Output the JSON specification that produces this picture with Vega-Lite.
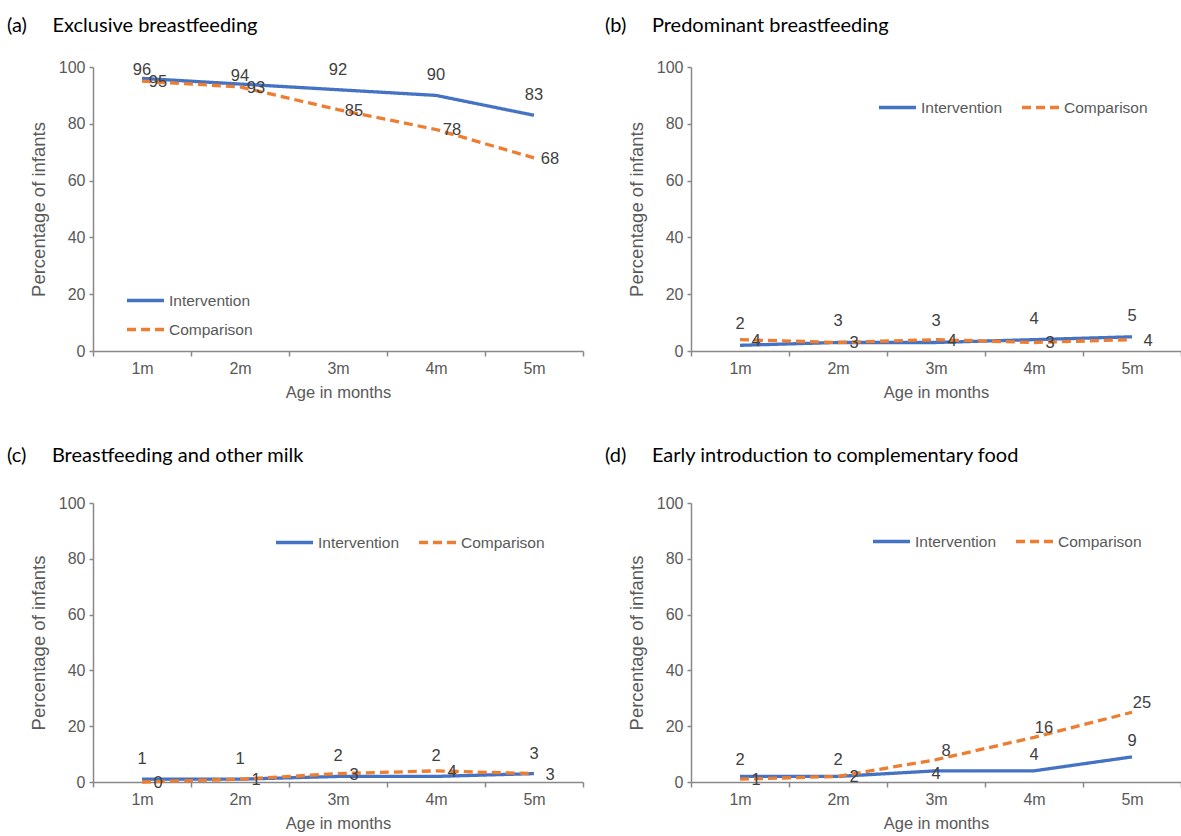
{
  "$schema": "https://vega.github.io/schema/vega-lite/v6.json",
  "background": "white",
  "padding": {"left": 7, "top": 16, "right": 0, "bottom": 0},
  "config": {
    "view": {"stroke": null},
    "font": "Liberation Sans",
    "axis": {"labelFont": "Liberation Sans", "labelFontSize": 16, "labelColor": "#595959", "titleFont": "Liberation Sans", "titleFontSize": 16.5, "titleFontWeight": "normal", "titleColor": "#595959", "domainColor": "#898989", "tickColor": "#898989", "domainWidth": 1.5, "tickWidth": 1.5, "grid": false},
    "axisY": {"titleFontSize": 18.5},
    "legend": {"labelFont": "Liberation Sans", "labelFontSize": 15.5, "labelColor": "#595959", "symbolType": "stroke", "symbolStrokeWidth": 3.5, "symbolSize": 1369, "labelOffset": 3, "columnPadding": 13, "rowPadding": -1},
    "title": {"font": "Lato", "fontSize": 20, "fontWeight": "normal", "color": "#000000", "anchor": "start"}
  },
  "data": {"values": [
    {"panel": "a", "month": "1m", "group": "Intervention", "value": 96},
    {"panel": "a", "month": "2m", "group": "Intervention", "value": 94},
    {"panel": "a", "month": "3m", "group": "Intervention", "value": 92},
    {"panel": "a", "month": "4m", "group": "Intervention", "value": 90},
    {"panel": "a", "month": "5m", "group": "Intervention", "value": 83},
    {"panel": "a", "month": "1m", "group": "Comparison", "value": 95},
    {"panel": "a", "month": "2m", "group": "Comparison", "value": 93},
    {"panel": "a", "month": "3m", "group": "Comparison", "value": 85},
    {"panel": "a", "month": "4m", "group": "Comparison", "value": 78},
    {"panel": "a", "month": "5m", "group": "Comparison", "value": 68},
    {"panel": "b", "month": "1m", "group": "Intervention", "value": 2},
    {"panel": "b", "month": "2m", "group": "Intervention", "value": 3},
    {"panel": "b", "month": "3m", "group": "Intervention", "value": 3},
    {"panel": "b", "month": "4m", "group": "Intervention", "value": 4},
    {"panel": "b", "month": "5m", "group": "Intervention", "value": 5},
    {"panel": "b", "month": "1m", "group": "Comparison", "value": 4},
    {"panel": "b", "month": "2m", "group": "Comparison", "value": 3},
    {"panel": "b", "month": "3m", "group": "Comparison", "value": 4},
    {"panel": "b", "month": "4m", "group": "Comparison", "value": 3},
    {"panel": "b", "month": "5m", "group": "Comparison", "value": 4},
    {"panel": "c", "month": "1m", "group": "Intervention", "value": 1},
    {"panel": "c", "month": "2m", "group": "Intervention", "value": 1},
    {"panel": "c", "month": "3m", "group": "Intervention", "value": 2},
    {"panel": "c", "month": "4m", "group": "Intervention", "value": 2},
    {"panel": "c", "month": "5m", "group": "Intervention", "value": 3},
    {"panel": "c", "month": "1m", "group": "Comparison", "value": 0},
    {"panel": "c", "month": "2m", "group": "Comparison", "value": 1},
    {"panel": "c", "month": "3m", "group": "Comparison", "value": 3},
    {"panel": "c", "month": "4m", "group": "Comparison", "value": 4},
    {"panel": "c", "month": "5m", "group": "Comparison", "value": 3},
    {"panel": "d", "month": "1m", "group": "Intervention", "value": 2},
    {"panel": "d", "month": "2m", "group": "Intervention", "value": 2},
    {"panel": "d", "month": "3m", "group": "Intervention", "value": 4},
    {"panel": "d", "month": "4m", "group": "Intervention", "value": 4},
    {"panel": "d", "month": "5m", "group": "Intervention", "value": 9},
    {"panel": "d", "month": "1m", "group": "Comparison", "value": 1},
    {"panel": "d", "month": "2m", "group": "Comparison", "value": 2},
    {"panel": "d", "month": "3m", "group": "Comparison", "value": 8},
    {"panel": "d", "month": "4m", "group": "Comparison", "value": 16},
    {"panel": "d", "month": "5m", "group": "Comparison", "value": 25}
  ]},
  "spacing": 45,
  "resolve": {"scale": {"color": "independent", "strokeDash": "independent"}, "legend": {"color": "independent", "strokeDash": "independent"}},
  "vconcat": [
    {
      "spacing": 21,
      "resolve": {"scale": {"color": "independent", "strokeDash": "independent"}, "legend": {"color": "independent", "strokeDash": "independent"}},
      "hconcat": [
        {
          "width": 490, "height": 284,
          "title": {"text": "(a)\u00a0\u00a0\u00a0\u00a0 Exclusive breastfeeding", "frame": "group", "dx": -86, "offset": 23},
          "transform": [{"filter": "datum.panel === 'a'"}],
          "encoding": {
            "x": {"field": "month", "type": "ordinal", "bandPosition": 0.5, "scale": {"type": "band", "paddingInner": 0, "paddingOuter": 0}, "axis": {"title": "Age in months", "tickBand": "extent", "labelAngle": 0, "tickSize": 5, "labelPadding": 4, "titlePadding": 8}},
            "y": {"field": "value", "type": "quantitative", "scale": {"domain": [0, 100], "nice": false}, "axis": {"values": [0, 20, 40, 60, 80, 100], "title": "Percentage of infants", "tickSize": 4, "labelPadding": 4, "titlePadding": 10}}
          },
          "layer": [
            {"transform": [{"filter": "datum.group === 'Intervention'"}], "mark": {"type": "line", "strokeWidth": 3.3}, "encoding": {
              "color": {"field": "group", "type": "nominal", "scale": {"domain": ["Intervention", "Comparison"], "range": ["#4472C4", "#ED7D31"]}, "legend": {"title": null, "orient": "none", "legendX": 32, "legendY": 213, "direction": "vertical"}},
              "strokeDash": {"field": "group", "type": "nominal", "scale": {"domain": ["Intervention", "Comparison"], "range": [[1, 0], [9, 5]]}, "legend": {"title": null, "orient": "none", "legendX": 32, "legendY": 213, "direction": "vertical"}}}},
            {"transform": [{"filter": "datum.group === 'Comparison'"}], "mark": {"type": "line", "strokeWidth": 3.3}, "encoding": {
              "color": {"field": "group", "type": "nominal"},
              "strokeDash": {"field": "group", "type": "nominal"}}},
            {"transform": [{"filter": "datum.group === 'Intervention' && datum.value >= 93"}], "mark": {"type": "text", "dy": -8, "fontSize": 16.5, "color": "#404040"}, "encoding": {"text": {"field": "value", "type": "quantitative"}}},
            {"transform": [{"filter": "datum.group === 'Intervention' && datum.value < 93"}], "mark": {"type": "text", "dy": -20, "fontSize": 16.5, "color": "#404040"}, "encoding": {"text": {"field": "value", "type": "quantitative"}}},
            {"transform": [{"filter": "datum.group === 'Comparison'"}], "mark": {"type": "text", "dx": 16, "dy": 1, "fontSize": 16.5, "color": "#404040"}, "encoding": {"text": {"field": "value", "type": "quantitative"}}}
          ]
        },
        {
          "width": 490, "height": 284,
          "title": {"text": "(b)\u00a0\u00a0\u00a0\u00a0 Predominant breastfeeding", "frame": "group", "dx": -86, "offset": 23},
          "transform": [{"filter": "datum.panel === 'b'"}],
          "encoding": {
            "x": {"field": "month", "type": "ordinal", "bandPosition": 0.5, "scale": {"type": "band", "paddingInner": 0, "paddingOuter": 0}, "axis": {"title": "Age in months", "tickBand": "extent", "labelAngle": 0, "tickSize": 5, "labelPadding": 4, "titlePadding": 8}},
            "y": {"field": "value", "type": "quantitative", "scale": {"domain": [0, 100], "nice": false}, "axis": {"values": [0, 20, 40, 60, 80, 100], "title": "Percentage of infants", "tickSize": 4, "labelPadding": 4, "titlePadding": 10}}
          },
          "layer": [
            {"transform": [{"filter": "datum.group === 'Intervention'"}], "mark": {"type": "line", "strokeWidth": 3.3}, "encoding": {
              "color": {"field": "group", "type": "nominal", "scale": {"domain": ["Intervention", "Comparison"], "range": ["#4472C4", "#ED7D31"]}, "legend": {"title": null, "orient": "none", "legendX": 186, "legendY": 20, "direction": "horizontal"}},
              "strokeDash": {"field": "group", "type": "nominal", "scale": {"domain": ["Intervention", "Comparison"], "range": [[1, 0], [9, 5]]}, "legend": {"title": null, "orient": "none", "legendX": 186, "legendY": 20, "direction": "horizontal"}}}},
            {"transform": [{"filter": "datum.group === 'Comparison'"}], "mark": {"type": "line", "strokeWidth": 3.3}, "encoding": {
              "color": {"field": "group", "type": "nominal"},
              "strokeDash": {"field": "group", "type": "nominal"}}},
            {"transform": [{"filter": "datum.group === 'Intervention'"}], "mark": {"type": "text", "dy": -21, "fontSize": 16.5, "color": "#404040"}, "encoding": {"text": {"field": "value", "type": "quantitative"}}},
            {"transform": [{"filter": "datum.group === 'Comparison'"}], "mark": {"type": "text", "dx": 16, "dy": 1, "fontSize": 16.5, "color": "#404040"}, "encoding": {"text": {"field": "value", "type": "quantitative"}}}
          ]
        }
      ]
    },
    {
      "spacing": 21,
      "resolve": {"scale": {"color": "independent", "strokeDash": "independent"}, "legend": {"color": "independent", "strokeDash": "independent"}},
      "hconcat": [
        {
          "width": 490, "height": 279,
          "title": {"text": "(c)\u00a0\u00a0\u00a0\u00a0 Breastfeeding and other milk", "frame": "group", "dx": -86, "offset": 29},
          "transform": [{"filter": "datum.panel === 'c'"}],
          "encoding": {
            "x": {"field": "month", "type": "ordinal", "bandPosition": 0.5, "scale": {"type": "band", "paddingInner": 0, "paddingOuter": 0}, "axis": {"title": "Age in months", "tickBand": "extent", "labelAngle": 0, "tickSize": 5, "labelPadding": 4, "titlePadding": 8}},
            "y": {"field": "value", "type": "quantitative", "scale": {"domain": [0, 100], "nice": false}, "axis": {"values": [0, 20, 40, 60, 80, 100], "title": "Percentage of infants", "tickSize": 4, "labelPadding": 4, "titlePadding": 10}}
          },
          "layer": [
            {"transform": [{"filter": "datum.group === 'Intervention'"}], "mark": {"type": "line", "strokeWidth": 3.3}, "encoding": {
              "color": {"field": "group", "type": "nominal", "scale": {"domain": ["Intervention", "Comparison"], "range": ["#4472C4", "#ED7D31"]}, "legend": {"title": null, "orient": "none", "legendX": 181, "legendY": 19, "direction": "horizontal"}},
              "strokeDash": {"field": "group", "type": "nominal", "scale": {"domain": ["Intervention", "Comparison"], "range": [[1, 0], [9, 5]]}, "legend": {"title": null, "orient": "none", "legendX": 181, "legendY": 19, "direction": "horizontal"}}}},
            {"transform": [{"filter": "datum.group === 'Comparison'"}], "mark": {"type": "line", "strokeWidth": 3.3}, "encoding": {
              "color": {"field": "group", "type": "nominal"},
              "strokeDash": {"field": "group", "type": "nominal"}}},
            {"transform": [{"filter": "datum.group === 'Intervention'"}], "mark": {"type": "text", "dy": -20, "fontSize": 16.5, "color": "#404040"}, "encoding": {"text": {"field": "value", "type": "quantitative"}}},
            {"transform": [{"filter": "datum.group === 'Comparison'"}], "mark": {"type": "text", "dx": 16, "dy": 1, "fontSize": 16.5, "color": "#404040"}, "encoding": {"text": {"field": "value", "type": "quantitative"}}}
          ]
        },
        {
          "width": 490, "height": 279,
          "title": {"text": "(d)\u00a0\u00a0\u00a0\u00a0 Early introduction to complementary food", "frame": "group", "dx": -86, "offset": 29},
          "transform": [{"filter": "datum.panel === 'd'"}],
          "encoding": {
            "x": {"field": "month", "type": "ordinal", "bandPosition": 0.5, "scale": {"type": "band", "paddingInner": 0, "paddingOuter": 0}, "axis": {"title": "Age in months", "tickBand": "extent", "labelAngle": 0, "tickSize": 5, "labelPadding": 4, "titlePadding": 8}},
            "y": {"field": "value", "type": "quantitative", "scale": {"domain": [0, 100], "nice": false}, "axis": {"values": [0, 20, 40, 60, 80, 100], "title": "Percentage of infants", "tickSize": 4, "labelPadding": 4, "titlePadding": 10}}
          },
          "layer": [
            {"transform": [{"filter": "datum.group === 'Intervention'"}], "mark": {"type": "line", "strokeWidth": 3.3}, "encoding": {
              "color": {"field": "group", "type": "nominal", "scale": {"domain": ["Intervention", "Comparison"], "range": ["#4472C4", "#ED7D31"]}, "legend": {"title": null, "orient": "none", "legendX": 180, "legendY": 18, "direction": "horizontal"}},
              "strokeDash": {"field": "group", "type": "nominal", "scale": {"domain": ["Intervention", "Comparison"], "range": [[1, 0], [9, 5]]}, "legend": {"title": null, "orient": "none", "legendX": 180, "legendY": 18, "direction": "horizontal"}}}},
            {"transform": [{"filter": "datum.group === 'Comparison'"}], "mark": {"type": "line", "strokeWidth": 3.3}, "encoding": {
              "color": {"field": "group", "type": "nominal"},
              "strokeDash": {"field": "group", "type": "nominal"}}},
            {"transform": [{"filter": "datum.group === 'Intervention' && datum.month !== '3m'"}], "mark": {"type": "text", "dy": -16, "fontSize": 16.5, "color": "#404040"}, "encoding": {"text": {"field": "value", "type": "quantitative"}}},
            {"transform": [{"filter": "datum.group === 'Intervention' && datum.month === '3m'"}], "mark": {"type": "text", "dy": 3, "fontSize": 16.5, "color": "#404040"}, "encoding": {"text": {"field": "value", "type": "quantitative"}}},
            {"transform": [{"filter": "datum.group === 'Comparison' && datum.value < 5"}], "mark": {"type": "text", "dx": 16, "dy": 1, "fontSize": 16.5, "color": "#404040"}, "encoding": {"text": {"field": "value", "type": "quantitative"}}},
            {"transform": [{"filter": "datum.group === 'Comparison' && datum.value >= 5"}], "mark": {"type": "text", "dx": 10, "dy": -9, "fontSize": 16.5, "color": "#404040"}, "encoding": {"text": {"field": "value", "type": "quantitative"}}}
          ]
        }
      ]
    }
  ]
}
